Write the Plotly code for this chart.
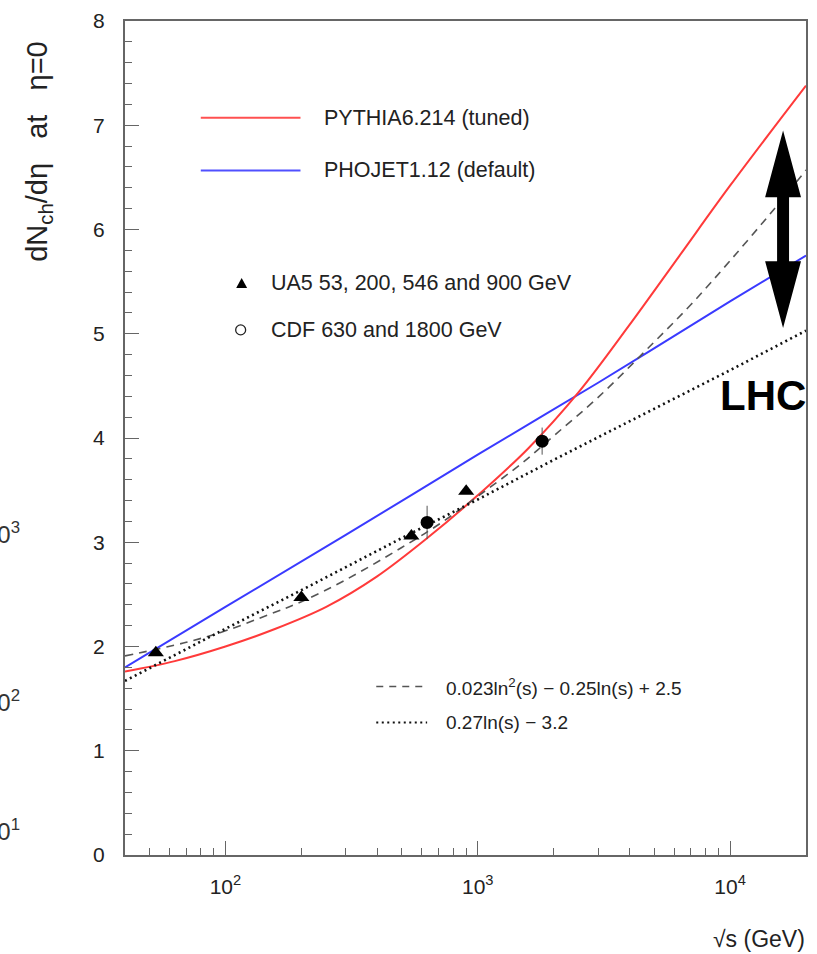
import plotly.graph_objects as go

# ---------------- data ----------------
pythia_x = [40, 63, 100, 158, 251, 398, 631, 1000, 1585, 2512, 3981, 6310, 10000, 20000]
pythia_y = [1.76, 1.86, 2.00, 2.17, 2.38, 2.67, 3.04, 3.45, 3.90, 4.44, 5.08, 5.75, 6.42, 7.38]

phojet_x = [40, 100, 300, 1000, 3000, 10000, 20000]
phojet_y = [1.80, 2.38, 3.07, 3.84, 4.53, 5.31, 5.75]

quad_x = [40, 70, 100, 150, 200, 300, 500, 700, 1000, 1500, 2000, 3000, 5000, 7000, 10000, 15000, 20000]
quad_y = [1.91, 2.04, 2.15, 2.31, 2.43, 2.64, 2.95, 3.17, 3.44, 3.76, 4.02, 4.39, 4.92, 5.28, 5.70, 6.20, 6.57]

lin_x = [40, 70, 100, 200, 500, 1000, 2000, 5000, 10000, 20000]
lin_y = [1.67, 1.98, 2.17, 2.54, 3.04, 3.41, 3.79, 4.28, 4.65, 5.03]

ua5_x = [53, 200, 546, 900]
ua5_y = [1.94, 2.47, 3.06, 3.49]

cdf_x = [630, 1800]
cdf_y = [3.19, 3.97]
cdf_err = [0.16, 0.13]

x_tickvals = [100, 1000, 10000]
x_ticktext = ["10<sup>2</sup>", "10<sup>3</sup>", "10<sup>4</sup>"]
x_minor = [50, 60, 70, 80, 90, 200, 300, 400, 500, 600, 700, 800, 900,
           2000, 3000, 4000, 5000, 6000, 7000, 8000, 9000]

legend_lines = ["PYTHIA6.214 (tuned)", "PHOJET1.12 (default)"]
legend_points = ["UA5 53, 200, 546 and 900 GeV", "CDF 630 and 1800 GeV"]
legend_fits = ["0.023ln<sup>2</sup>(s) − 0.25ln(s) + 2.5", "0.27ln(s) − 3.2"]

# ---------------- layout geometry ----------------
W_IMG, H_IMG = 817, 954
L, R, T, B = 125, 808, 18, 855
PW, PH = R - L, B - T
FONT = "Liberation Sans, Arial, sans-serif"
AXC = "#666666"


def P(px, py):
    return (px - L) / PW, (B - py) / PH


fig = go.Figure()

fig.add_trace(go.Scatter(x=phojet_x, y=phojet_y, mode="lines",
                         line=dict(color="#3a3aff", width=2, shape="spline"),
                         showlegend=False))
fig.add_trace(go.Scatter(x=pythia_x, y=pythia_y, mode="lines",
                         line=dict(color="#ff3a3a", width=2, shape="spline", smoothing=1.0),
                         showlegend=False))
fig.add_trace(go.Scatter(x=quad_x, y=quad_y, mode="lines",
                         line=dict(color="#555555", width=1.6, dash="8px,6px", shape="spline"),
                         showlegend=False))
fig.add_trace(go.Scatter(x=lin_x, y=lin_y, mode="lines",
                         line=dict(color="#111111", width=2.6, dash="2px,3.5px"),
                         showlegend=False))
fig.add_trace(go.Scatter(x=cdf_x, y=cdf_y, mode="markers",
                         marker=dict(symbol="circle", size=13, color="black"),
                         error_y=dict(type="data", array=cdf_err, visible=True,
                                      color="#555555", thickness=1, width=0),
                         showlegend=False))
fig.add_trace(go.Scatter(x=ua5_x, y=ua5_y, mode="markers",
                         marker=dict(symbol="triangle-up", size=14, color="black"),
                         showlegend=False))

shapes = []
# legend line samples
for (py, col) in [(115, "#ff5050"), (168, "#5050ff")]:
    x0, y0 = P(201, py)
    x1, _ = P(301, py)
    shapes.append(dict(type="line", xref="paper", yref="paper", x0=x0, x1=x1, y0=y0, y1=y0,
                       line=dict(color=col, width=2)))
# fit samples
x0, y0 = P(377, 686)
x1, _ = P(428, 686)
shapes.append(dict(type="line", xref="paper", yref="paper", x0=x0, x1=x1, y0=y0, y1=y0,
                   line=dict(color="#555555", width=1.5, dash="7px,6px")))
x0, y0 = P(377, 722)
x1, _ = P(428, 722)
shapes.append(dict(type="line", xref="paper", yref="paper", x0=x0, x1=x1, y0=y0, y1=y0,
                   line=dict(color="#111111", width=2.2, dash="2px,3.5px")))
# legend triangle
tri = [P(242, 276), P(236.5, 286), P(247.5, 286)]
shapes.append(dict(type="path", xref="paper", yref="paper",
                   path="M {} {} L {} {} L {} {} Z".format(tri[0][0], tri[0][1], tri[1][0], tri[1][1],
                                                           tri[2][0], tri[2][1]),
                   fillcolor="black", line=dict(width=0)))
# legend open circle
cx0, cy0 = P(236, 333)
cx1, cy1 = P(246, 323)
shapes.append(dict(type="circle", xref="paper", yref="paper", x0=cx0, y0=cy0, x1=cx1, y1=cy1,
                   line=dict(color="#222222", width=1.3), fillcolor="rgba(0,0,0,0)"))
# double-headed arrow
arrow_px = [(785, 128), (803, 195), (791, 195), (791, 259), (803, 259), (785, 326),
            (767, 259), (779, 259), (779, 195), (767, 195)]
pts = [P(a, b) for a, b in arrow_px]
path = "M " + " L ".join("{} {}".format(a, b) for a, b in pts) + " Z"
shapes.append(dict(type="path", xref="paper", yref="paper", path=path,
                   fillcolor="black", line=dict(width=0)))

annotations = []


def txt(text, px, py, size=21.5, xanchor="left", yanchor="middle", color="#222222", angle=0):
    x, y = P(px, py)
    annotations.append(dict(text=text, x=x, y=y, xref="paper", yref="paper", showarrow=False,
                            xanchor=xanchor, yanchor=yanchor, textangle=angle,
                            font=dict(family=FONT, size=size, color=color)))


sp = "\u00a0" * 3
txt(legend_lines[0], 323, 115)
txt(legend_lines[1], 323, 168)
txt(legend_points[0], 269, 281)
txt(legend_points[1], 269, 328)
txt(legend_fits[0], 445, 686, size=19)
txt(legend_fits[1], 445, 722, size=19)
txt("<b>LHC</b>", 765, 394, size=42, xanchor="center", color="black")
txt("√s (GeV)", 809, 939, size=23, xanchor="right", color="#222222")
txt("dN<sub>ch</sub>/dη" + sp + "at" + sp + "η=0", 38, 149, size=29,
    xanchor="center", angle=-90)
# cropped tick labels of a neighbouring panel at the far left edge
txt("10<sup>3</sup>", 22, 532, size=24, xanchor="right", color="#333333")
txt("10<sup>2</sup>", 22, 700, size=24, xanchor="right", color="#333333")
txt("10<sup>1</sup>", 22, 830, size=24, xanchor="right", color="#333333")

fig.update_layout(
    width=W_IMG, height=H_IMG,
    margin=dict(l=L, r=W_IMG - R, t=T, b=H_IMG - B, pad=0),
    paper_bgcolor="white", plot_bgcolor="white",
    font=dict(family=FONT, size=21, color="#222222"),
    shapes=shapes, annotations=annotations,
    xaxis=dict(type="log", range=[1.60206, 4.30103], showgrid=False, zeroline=False,
               showline=True, linecolor=AXC, linewidth=2, mirror=True,
               ticks="inside", ticklen=14, tickwidth=1.3, tickcolor=AXC,
               tickvals=x_tickvals, ticktext=x_ticktext, ticklabelstandoff=12,
               tickfont=dict(size=21, family=FONT, color="#222222"),
               minor=dict(tickvals=x_minor, ticks="inside", ticklen=7, tickwidth=1.1,
                          tickcolor=AXC, showgrid=False)),
    yaxis=dict(range=[0, 8], showgrid=False, zeroline=False,
               showline=True, linecolor=AXC, linewidth=2, mirror=True,
               ticks="inside", ticklen=14, tickwidth=1.3, tickcolor=AXC,
               tickmode="linear", tick0=0, dtick=1, ticklabelstandoff=14,
               tickfont=dict(size=21, family=FONT, color="#222222"),
               minor=dict(dtick=0.2, ticks="inside", ticklen=7, tickwidth=1.1,
                          tickcolor=AXC, showgrid=False)),
)

fig.write_html("out.html", config={"displayModeBar": False},
               post_script="document.body.style.margin='0';document.body.style.padding='0';")
